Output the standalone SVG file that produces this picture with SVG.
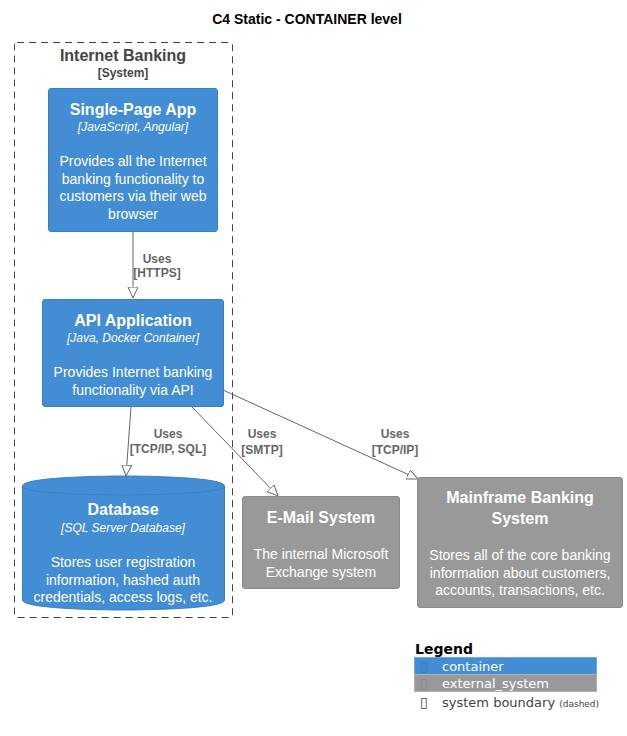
<svg xmlns="http://www.w3.org/2000/svg" width="627" height="736" viewBox="0 0 627 736">
  <style>
    .t { font-family: "Liberation Sans", Arial, sans-serif; text-anchor: middle; }
    .title { font-size: 14px; font-weight: bold; fill: #000; }
    .name { font-size: 16px; font-weight: bold; fill: #fff; }
    .tech { font-size: 12px; font-style: italic; fill: #fff; }
    .desc { font-size: 14px; fill: #fff; }
    .bname { font-size: 16px; font-weight: bold; fill: #444; }
    .btype { font-size: 12px; font-weight: bold; fill: #444; }
    .lbl { font-size: 12px; font-weight: bold; fill: #666; }
    .cont { fill: #438DD5; stroke: #3C7FC0; stroke-width: 1; }
    .ext { fill: #999999; stroke: #8A8A8A; stroke-width: 1; }
    .edge { fill: none; stroke: #666; stroke-width: 1; }
    .lg { font-family: "DejaVu Sans", sans-serif; }
    .box { font-family: "DejaVu Sans", sans-serif; font-size: 14px; }
  </style>
  <defs>
    <marker id="arrow" markerWidth="12" markerHeight="12" refX="11" refY="5" orient="auto" markerUnits="userSpaceOnUse">
      <path d="M0,0 L11,5 L0,10 Z" fill="#fff" stroke="#666" stroke-width="1"/>
    </marker>
  </defs>

  <rect width="627" height="736" fill="#fff"/>

  <text class="t title" x="307" y="24">C4 Static - CONTAINER level</text>

  <!-- system boundary -->
  <g id="internet_banking">
    <rect x="14.5" y="42.5" width="218" height="575" rx="2.5" fill="none" stroke="#444" stroke-width="1" stroke-dasharray="7,5"/>
    <text class="t bname" x="123" y="61">Internet Banking</text>
    <text class="t btype" x="123" y="77">[System]</text>
  </g>

  <g id="connectors">
    <line class="edge" x1="133" y1="232" x2="133" y2="298" marker-end="url(#arrow)"/>
    <text class="t lbl" x="157" y="263">Uses</text>
    <text class="t lbl" x="157" y="277">[HTTPS]</text>

    <line class="edge" x1="131" y1="407" x2="126" y2="476" marker-end="url(#arrow)"/>
    <text class="t lbl" x="168" y="438">Uses</text>
    <text class="t lbl" x="168" y="453">[TCP/IP, SQL]</text>

    <line class="edge" x1="192" y1="407" x2="278" y2="496" marker-end="url(#arrow)"/>
    <text class="t lbl" x="262" y="438">Uses</text>
    <text class="t lbl" x="262" y="454">[SMTP]</text>

    <line class="edge" x1="223" y1="390" x2="418" y2="479" marker-end="url(#arrow)"/>
    <text class="t lbl" x="395" y="438">Uses</text>
    <text class="t lbl" x="395" y="454">[TCP/IP]</text>
  </g>

  <g id="spa">
    <rect class="cont" x="48.5" y="88.5" width="169" height="143" rx="2.5"/>
    <text class="t name" x="133" y="115">Single-Page App</text>
    <text class="t tech" x="133" y="131">[JavaScript, Angular]</text>
    <text class="t desc" x="133" y="166">Provides all the Internet</text>
    <text class="t desc" x="133" y="184">banking functionality to</text>
    <text class="t desc" x="133" y="201">customers via their web</text>
    <text class="t desc" x="133" y="219">browser</text>
  </g>

  <g id="api">
    <rect class="cont" x="42.5" y="299.5" width="181" height="107" rx="2.5"/>
    <text class="t name" x="133" y="326">API Application</text>
    <text class="t tech" x="133" y="342">[Java, Docker Container]</text>
    <text class="t desc" x="133" y="377">Provides Internet banking</text>
    <text class="t desc" x="133" y="395">functionality via API</text>
  </g>

  <g id="database">
    <path class="cont" d="M22.5,486 C22.5,476 123.5,476 123.5,476 C123.5,476 224.5,476 224.5,486 L224.5,600 C224.5,610 123.5,610 123.5,610 C123.5,610 22.5,610 22.5,600 Z"/>
    <path d="M22.5,486 C22.5,495 123.5,495 123.5,495 C123.5,495 224.5,495 224.5,486" fill="none" stroke="#3C7FC0" stroke-width="1"/>
    <text class="t name" x="123" y="515">Database</text>
    <text class="t tech" x="123" y="532">[SQL Server Database]</text>
    <text class="t desc" x="123" y="567">Stores user registration</text>
    <text class="t desc" x="123" y="585">information, hashed auth</text>
    <text class="t desc" x="123" y="602">credentials, access logs, etc.</text>
  </g>

  <g id="email">
    <rect class="ext" x="242.5" y="496.5" width="157" height="92" rx="2.5"/>
    <text class="t name" x="321" y="523">E-Mail System</text>
    <text class="t desc" x="321" y="559">The internal Microsoft</text>
    <text class="t desc" x="321" y="577">Exchange system</text>
  </g>

  <g id="mainframe">
    <rect class="ext" x="417.5" y="477.5" width="205" height="130" rx="2.5"/>
    <text class="t name" x="520" y="503">Mainframe Banking</text>
    <text class="t name" x="520" y="524">System</text>
    <text class="t desc" x="520" y="560">Stores all of the core banking</text>
    <text class="t desc" x="520" y="578">information about customers,</text>
    <text class="t desc" x="520" y="595">accounts, transactions, etc.</text>
  </g>

  <g id="legend">
    <text class="lg" x="415" y="654" font-size="14" font-weight="bold" fill="#000">Legend</text>
    <rect x="414.5" y="657.5" width="182" height="17" fill="#438DD5" stroke="#6FA8DC" stroke-width="1"/>
    <rect x="414.5" y="674.5" width="182" height="17" fill="#999999" stroke="#B0B0B0" stroke-width="1"/>
    <text class="box" x="420" y="671" fill="#3673B0">▯</text>
    <text class="lg" x="442" y="671" font-size="13" fill="#fff">container</text>
    <text class="box" x="420" y="688" fill="#888">▯</text>
    <text class="lg" x="442" y="688" font-size="13" fill="#fff">external_system</text>
    <text class="box" x="420" y="707" fill="#444">▯</text>
    <text class="lg" x="442" y="707" font-size="13" fill="#444">system boundary <tspan font-size="9">(dashed)</tspan></text>
  </g>
</svg>
